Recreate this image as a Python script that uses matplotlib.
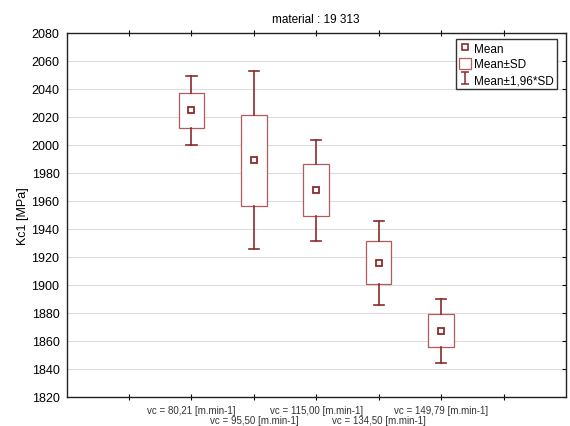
import numpy as np
import matplotlib.pyplot as plt
from matplotlib.patches import Rectangle
from matplotlib.lines import Line2D

plt.rcParams['font.family'] = ['Liberation Sans', 'DejaVu Sans']

# data
categories = ["vc = 80,21 [m.min-1]", "vc = 95,50 [m.min-1]", "vc = 115,00 [m.min-1]",
              "vc = 134,50 [m.min-1]", "vc = 149,79 [m.min-1]"]
means = [2024.7, 1989.2, 1967.6, 1915.8, 1867.3]
sds = [12.5, 32.5, 18.5, 15.3, 11.7]
k = 1.96

dark = '#8c2a2c'
light = '#b55a5c'

fig = plt.figure(figsize=(5.70, 4.27), dpi=100)
ax = fig.add_axes([66.5 / 570, 1 - 398 / 427, (566 - 66.5) / 570, (398 - 34) / 427])

pos = np.arange(2, 2 + len(means))
box_w = 0.41
cap_w = 0.165
for x, m, s in zip(pos, means, sds):
    ax.add_patch(Rectangle((x - box_w / 2, m - s), box_w, 2 * s,
                           facecolor='white', edgecolor=light, lw=0.9, zorder=3))
    ax.plot([x, x], [m + s, m + k * s], color=dark, lw=1.2, zorder=3)
    ax.plot([x, x], [m - s, m - k * s], color=dark, lw=1.2, zorder=3)
    ax.plot([x - cap_w / 2, x + cap_w / 2], [m + k * s] * 2, color=dark, lw=1.2, zorder=3)
    ax.plot([x - cap_w / 2, x + cap_w / 2], [m - k * s] * 2, color=dark, lw=1.2, zorder=3)
ax.plot(pos, means, ls='none', marker='s', ms=4.5, mfc='white', mec=dark, mew=1.3, zorder=4)

ax.set_xlim(0, 8)
ax.set_ylim(1820, 2080)
ax.set_yticks(np.arange(1820, 2081, 20))
ax.yaxis.grid(True, color='#dcdcdc', lw=0.8)
ax.set_axisbelow(True)

# staggered category labels: upper row on major ticks, lower row on minor ticks
upper = [1] + [p for i, p in enumerate(pos) if i % 2 == 0] + [7]
lower = [p for i, p in enumerate(pos) if i % 2 == 1]
ax.set_xticks(upper)
ax.set_xticklabels([""] + [c for i, c in enumerate(categories) if i % 2 == 0] + [""],
                   fontsize=7, color='#333333')
ax.set_xticks(lower, minor=True)
ax.set_xticklabels([c for i, c in enumerate(categories) if i % 2 == 1], minor=True,
                   fontsize=7, color='#333333')
ax.tick_params(axis='x', which='both', direction='inout', length=4, width=0.8, top=True)
ax.tick_params(axis='x', which='major', pad=4)
ax.tick_params(axis='x', which='minor', pad=11)
ax.tick_params(axis='y', direction='in', length=3, width=0.8, right=True, left=False,
               labelsize=9, pad=5)
for sp in ax.spines.values():
    sp.set_color('#222222')
    sp.set_linewidth(1.0)

ax.set_ylabel("Kc1 [MPa]", fontsize=9, labelpad=2)
ax.set_title("material : 19 313", fontsize=8.5, pad=8)

# dummy errorbar only for the legend entry (I-shaped symbol)
eb = ax.errorbar([np.nan], [np.nan], yerr=[1], ls='none', color=dark,
                 elinewidth=1.1, capsize=3, capthick=1.1)
handles = [
    Line2D([], [], ls='none', marker='s', ms=4, mfc='white', mec=dark, mew=1.2),
    Rectangle((0, 0), 1, 1, facecolor='white', edgecolor=light, lw=0.9),
    eb,
]
leg = ax.legend(handles, ["Mean", "Mean±SD", "Mean±1,96*SD"], loc='upper right',
                bbox_to_anchor=(0.982, 0.983), fontsize=8.5, fancybox=False, framealpha=1,
                edgecolor='#333333', handlelength=1.0, handleheight=1.1, handletextpad=0.3,
                borderpad=0.25, labelspacing=0.25, borderaxespad=0)
leg.get_frame().set_linewidth(1.0)

fig.savefig("out.png", dpi=100)
